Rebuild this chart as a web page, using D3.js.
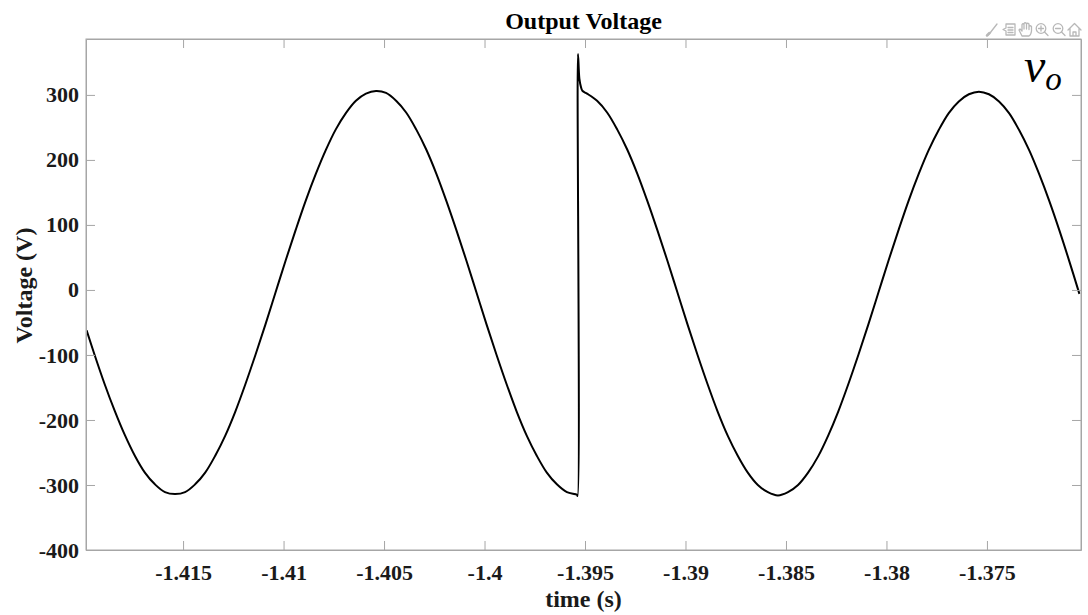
<!DOCTYPE html>
<html>
<head>
<meta charset="utf-8">
<script src="https://cdn.jsdelivr.net/npm/d3@7/dist/d3.min.js"></script>
<style>
  html, body { margin: 0; padding: 0; background: #fff; }
  svg { display: block; }
  text { font-family: "Liberation Serif", "Times New Roman", serif; }
</style>
</head>
<body>
<svg id="chart" width="1088" height="615"></svg>
<script>
// Sample times (s) of the inverter output voltage trace
const time = [
  -1.4198, -1.4194, -1.4189, -1.4184, -1.4179, -1.4174, -1.4169, -1.4164, -1.4159, -1.4154,
  -1.4149, -1.4144, -1.4139, -1.4134, -1.4129, -1.4124, -1.4119, -1.4114, -1.4109, -1.4104,
  -1.4099, -1.4094, -1.4089, -1.4084, -1.4079, -1.4074, -1.4069, -1.4064, -1.4059, -1.4054,
  -1.4049, -1.4044, -1.4039, -1.4034, -1.4029, -1.4024, -1.4019, -1.4014, -1.4009, -1.4004,
  -1.3999, -1.3994, -1.3989, -1.3984, -1.3979, -1.3974, -1.3969, -1.3964, -1.3959, -1.3954,
  -1.39537, -1.39535, -1.39528, -1.39520, -1.39512,
  -1.3949, -1.3944, -1.3939, -1.3934, -1.3929, -1.3924, -1.3919, -1.3914, -1.3909, -1.3904,
  -1.3899, -1.3894, -1.3889, -1.3884, -1.3879, -1.3874, -1.3869, -1.3864, -1.3859, -1.3854,
  -1.3849, -1.3844, -1.3839, -1.3834, -1.3829, -1.3824, -1.3819, -1.3814, -1.3809, -1.3804,
  -1.3799, -1.3794, -1.3789, -1.3784, -1.3779, -1.3774, -1.3769, -1.3764, -1.3759, -1.3754,
  -1.3749, -1.3744, -1.3739, -1.3734, -1.3729, -1.3724, -1.3719, -1.3714, -1.3709, -1.3704
];

// Output voltage v_o (V) at each sample time
const voltage = [
  -62, -100, -145, -186, -223, -255, -281, -299, -311, -314,
  -311, -299, -281, -255, -224, -187, -145, -100, -53, -4,
  45, 92, 137, 178, 215, 247, 272, 291, 302, 306,
  303, 291, 273, 247, 216, 179, 137, 92, 45, -4,
  -53, -100, -145, -187, -224, -255, -281, -299, -311, -315,
  -317, 363, 325, 312, 306,
  302, 291, 273, 247, 216, 179, 137, 92, 45, -4,
  -53, -100, -145, -187, -224, -255, -281, -300, -311, -316,
  -311, -300, -281, -256, -224, -187, -145, -100, -53, -4,
  45, 92, 137, 178, 215, 246, 272, 290, 301, 305,
  301, 290, 272, 246, 215, 178, 137, 92, 44, -6
];

// Axis ticks
const xTicks = [-1.415, -1.41, -1.405, -1.4, -1.395, -1.39, -1.385, -1.38, -1.375];
const xTickLabels = ["-1.415", "-1.41", "-1.405", "-1.4", "-1.395", "-1.39", "-1.385", "-1.38", "-1.375"];
const yTicks = [-400, -300, -200, -100, 0, 100, 200, 300];
const yTickLabels = ["-400", "-300", "-200", "-100", "0", "100", "200", "300"];

const xDomain = [-1.41983, -1.37032];
const yDomain = [-400, 386];

const svg = d3.select("#chart");
const plot = { left: 86, right: 1081, top: 39, bottom: 550 };

const x = d3.scaleLinear().domain(xDomain).range([plot.left, plot.right]);
const y = d3.scaleLinear().domain(yDomain).range([plot.bottom, plot.top]);

const axisColor = "#a6a6a6";
const labelColor = "#1a1a1a";
const tickLen = 9;

// clip region for the trace
svg.append("defs").append("clipPath").attr("id", "plot-clip")
  .append("rect")
  .attr("x", plot.left).attr("y", plot.top)
  .attr("width", plot.right - plot.left).attr("height", plot.bottom - plot.top);

// Trace
const data = time.map((t, i) => ({ t, v: voltage[i] }));
const line = d3.line()
  .x(d => x(d.t))
  .y(d => y(d.v))
  .curve(d3.curveCatmullRom.alpha(0.5));

svg.append("path")
  .datum(data)
  .attr("clip-path", "url(#plot-clip)")
  .attr("fill", "none")
  .attr("stroke", "#000")
  .attr("stroke-width", 2)
  .attr("stroke-linejoin", "round")
  .attr("d", line);

// Axes (ticks pointing inward, mirrored on top/right)
function styleAxis(g) {
  g.select(".domain").attr("stroke", axisColor).attr("stroke-width", 1);
  g.selectAll(".tick line").attr("stroke", axisColor).attr("stroke-width", 1);
  g.selectAll(".tick text")
    .attr("fill", labelColor)
    .style("font-family", '"Liberation Serif", "Times New Roman", serif')
    .style("font-weight", "bold")
    .style("font-size", "22px");
}

const xAxisBottom = d3.axisBottom(x)
  .tickValues(xTicks)
  .tickFormat((d, i) => xTickLabels[i])
  .tickSizeInner(-tickLen).tickSizeOuter(0).tickPadding(14);
svg.append("g").attr("transform", `translate(0,${plot.bottom})`)
  .call(xAxisBottom).call(styleAxis);

const xAxisTop = d3.axisTop(x)
  .tickValues(xTicks).tickFormat("")
  .tickSizeInner(-tickLen).tickSizeOuter(0);
svg.append("g").attr("transform", `translate(0,${plot.top})`)
  .call(xAxisTop).call(styleAxis);

const yAxisLeft = d3.axisLeft(y)
  .tickValues(yTicks)
  .tickFormat((d, i) => yTickLabels[i])
  .tickSizeInner(-tickLen).tickSizeOuter(0).tickPadding(7);
svg.append("g").attr("transform", `translate(${plot.left},0)`)
  .call(yAxisLeft).call(styleAxis);

const yAxisRight = d3.axisRight(y)
  .tickValues(yTicks).tickFormat("")
  .tickSizeInner(-tickLen).tickSizeOuter(0);
svg.append("g").attr("transform", `translate(${plot.right},0)`)
  .call(yAxisRight).call(styleAxis);

// Box edges across the full plot width/height
svg.append("rect")
  .attr("x", plot.left).attr("y", plot.top)
  .attr("width", plot.right - plot.left).attr("height", plot.bottom - plot.top)
  .attr("fill", "none").attr("stroke", axisColor).attr("stroke-width", 1);

// Title and axis labels
const cx = (plot.left + plot.right) / 2;
svg.append("text")
  .attr("x", cx).attr("y", 29)
  .attr("text-anchor", "middle")
  .attr("fill", "#000")
  .style("font-weight", "bold").style("font-size", "24px")
  .text("Output Voltage");

svg.append("text")
  .attr("x", cx).attr("y", 607)
  .attr("text-anchor", "middle")
  .attr("fill", labelColor)
  .style("font-weight", "bold").style("font-size", "24px")
  .text("time (s)");

svg.append("text")
  .attr("transform", `translate(32,${(plot.top + plot.bottom) / 2 - 9}) rotate(-90)`)
  .attr("text-anchor", "middle")
  .attr("fill", labelColor)
  .style("font-weight", "bold").style("font-size", "24px")
  .text("Voltage (V)");

// Signal name annotation
const vo = svg.append("text")
  .attr("x", 1024).attr("y", 82)
  .attr("fill", "#000")
  .style("font-style", "italic").style("font-size", "48px");
vo.append("tspan").text("v");
vo.append("tspan").attr("dy", 8).style("font-size", "33px").text("o");

// Axes toolbar glyphs
const tb = svg.append("g")
  .attr("fill", "none").attr("stroke", "#b8b8b8").attr("stroke-width", 1.3)
  .attr("stroke-linecap", "round").attr("stroke-linejoin", "round");
// brush
tb.append("path").attr("d", "M988,35 L991,32 M990,33 L997,24");
tb.append("path").attr("d", "M987,35.5 L989.5,33").attr("stroke-width", 2.5);
// data tips
tb.append("path").attr("d", "M1006,24 H1015 V35 H1006 V31 L1003,29.5 L1006,28 Z M1008,27.5 H1013 M1008,30 H1013 M1008,32.5 H1013");
// pan hand
tb.append("path").attr("d", "M1022,36 L1019,30 L1020,29 L1022,31 V24.5 Q1023,23 1024,24.5 V29 V23.5 Q1025,22 1026.5,23.5 V29 V24 Q1027.5,22.5 1029,24 V29.5 V26.5 Q1030,25 1031.5,26.5 V31 Q1031,35 1029,36 Z");
// zoom in
tb.append("circle").attr("cx", 1041).attr("cy", 28.5).attr("r", 4.8);
tb.append("path").attr("d", "M1044.5,32 L1048,35.5 M1038.5,28.5 H1043.5 M1041,26 V31");
// zoom out
tb.append("circle").attr("cx", 1058).attr("cy", 28.5).attr("r", 4.8);
tb.append("path").attr("d", "M1061.5,32 L1065,35.5 M1055.5,28.5 H1060.5");
// home
tb.append("path").attr("d", "M1068,30 L1074.5,23.5 L1081,30 M1070,28.5 V36 H1079 V28.5 M1073,36 V32 H1076 V36");
</script>
</body>
</html>
